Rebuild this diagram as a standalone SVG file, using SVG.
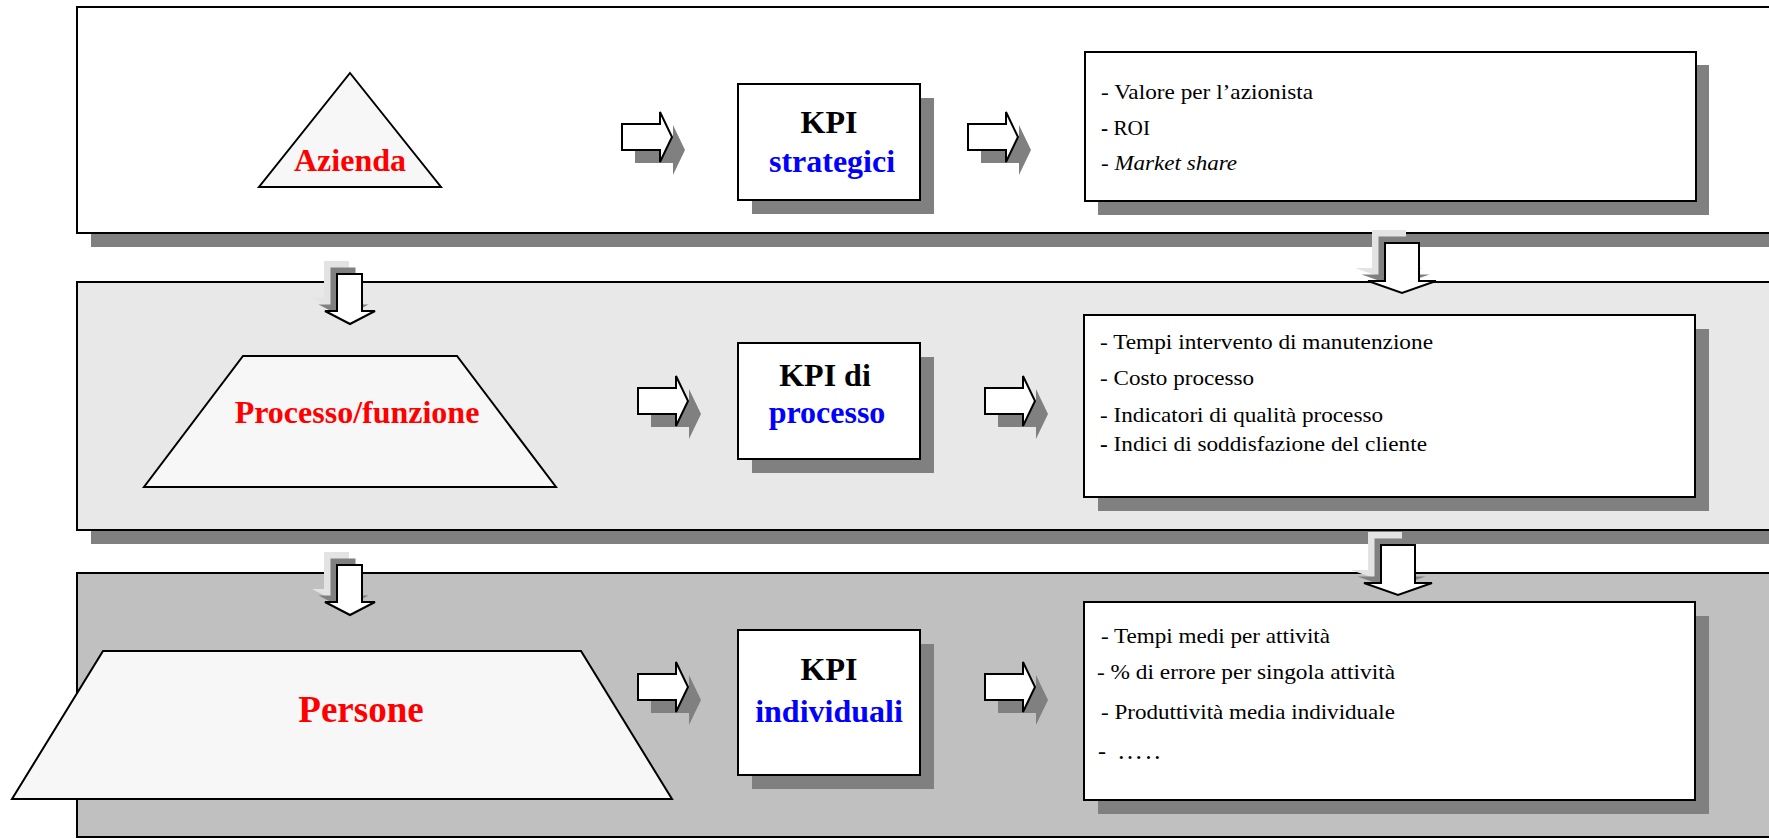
<svg xmlns="http://www.w3.org/2000/svg" xmlns:xlink="http://www.w3.org/1999/xlink" width="1769" height="839" viewBox="0 0 1769 839">
<style>
.band{stroke:#000;stroke-width:2}
.shadow{fill:#808080}
.shape{fill:#f7f7f7;stroke:#000;stroke-width:2}
.box{fill:#fff;stroke:#000;stroke-width:2}
.head{font-family:"Liberation Serif","Times New Roman",serif;font-weight:bold;font-size:32px;text-anchor:middle}
.lbl{font-family:"Liberation Serif","Times New Roman",serif;font-weight:bold;fill:#ff0000;text-anchor:middle}
.item{font-family:"Liberation Serif","Times New Roman",serif;font-size:22px;fill:#000}
.arrow{fill:#fff;stroke:#000;stroke-width:2;stroke-linejoin:miter}
.ash1{fill:#e3e3e3}
.ash2{fill:#808080}
</style>
<defs>
<path id="harrow" d="M0,12 H38 V0 L50,25 L38,50 V38 H0 Z"/>
<path id="darrowS" d="M12,0 H37 V37 H50 L25,50 L0,37 H12 Z"/>
<path id="darrowL" d="M17,0 H51 V38 H68 L34,50 L0,38 H17 Z"/>
</defs>

<g id="band-azienda">
<rect class="shadow" x="91" y="21" width="1720" height="226"/>
<rect class="band" x="77" y="7" width="1720" height="226" fill="#ffffff"/>
</g>
<g id="band-processo">
<rect class="shadow" x="91" y="296" width="1720" height="248"/>
<rect class="band" x="77" y="282" width="1720" height="248" fill="#e8e8e8"/>
</g>
<g id="band-persone">
<rect class="band" x="77" y="573" width="1720" height="264" fill="#c0c0c0"/>
</g>

<g id="azienda">
<polygon class="shape" points="350,73 441,187 259,187"/>
<text class="lbl" x="350" y="171" font-size="32">Azienda</text>
</g>
<g id="processo-funzione">
<polygon class="shape" points="243,356 457,356 556,487 144,487"/>
<text class="lbl" x="357" y="423" font-size="32">Processo/funzione</text>
</g>
<g id="persone">
<polygon class="shape" points="103,651 581,651 672,799 12,799"/>
<text class="lbl" x="361" y="722" font-size="37">Persone</text>
</g>

<g id="kpi-strategici">
<rect class="shadow" x="752" y="98" width="182" height="116"/>
<rect class="box" x="738" y="84" width="182" height="116"/>
<text class="head" x="829" y="133" fill="#000">KPI</text>
<text class="head" x="832" y="172" fill="#0000ff">strategici</text>
</g>
<g id="kpi-processo">
<rect class="shadow" x="752" y="357" width="182" height="116"/>
<rect class="box" x="738" y="343" width="182" height="116"/>
<text class="head" x="825" y="386" fill="#000">KPI di</text>
<text class="head" x="827" y="423" fill="#0000ff">processo</text>
</g>
<g id="kpi-individuali">
<rect class="shadow" x="752" y="644" width="182" height="145"/>
<rect class="box" x="738" y="630" width="182" height="145"/>
<text class="head" x="829" y="680" fill="#000">KPI</text>
<text class="head" x="829" y="722" fill="#0000ff">individuali</text>
</g>

<g id="list-strategici">
<rect class="shadow" x="1098" y="65" width="611" height="150"/>
<rect class="box" x="1085" y="52" width="611" height="149"/>
<text class="item" x="1101" y="99" textLength="212" lengthAdjust="spacingAndGlyphs">- Valore per l’azionista</text>
<text class="item" x="1101" y="135" textLength="49" lengthAdjust="spacingAndGlyphs"><tspan font-weight="bold">-</tspan> ROI</text>
<text class="item" x="1101" y="170" textLength="136" lengthAdjust="spacingAndGlyphs">- <tspan font-style="italic">Market share</tspan></text>
</g>
<g id="list-processo">
<rect class="shadow" x="1098" y="329" width="611" height="182"/>
<rect class="box" x="1084" y="315" width="611" height="182"/>
<text class="item" x="1100" y="349" textLength="333" lengthAdjust="spacingAndGlyphs">- Tempi intervento di manutenzione</text>
<text class="item" x="1100" y="385" textLength="154" lengthAdjust="spacingAndGlyphs">- Costo processo</text>
<text class="item" x="1100" y="422" textLength="283" lengthAdjust="spacingAndGlyphs">- Indicatori di qualità processo</text>
<text class="item" x="1100" y="451" textLength="327" lengthAdjust="spacingAndGlyphs"><tspan font-weight="bold">-</tspan> Indici di soddisfazione del cliente</text>
</g>
<g id="list-individuali">
<rect class="shadow" x="1098" y="616" width="611" height="198"/>
<rect class="box" x="1084" y="602" width="611" height="198"/>
<text class="item" x="1101" y="643" textLength="229" lengthAdjust="spacingAndGlyphs">- Tempi medi per attività</text>
<text class="item" x="1097" y="679" textLength="298" lengthAdjust="spacingAndGlyphs">- % di errore per singola attività</text>
<text class="item" x="1101" y="719" textLength="294" lengthAdjust="spacingAndGlyphs">- Produttività media individuale</text>
<text class="item" y="759"><tspan x="1098" font-size="24">- </tspan><tspan x="1117" font-size="26" letter-spacing="2.2">…..</tspan></text>
</g>

<g id="connectors">
<g transform="translate(622,112)"><use xlink:href="#harrow" class="ash2" transform="translate(13,13)"/><use xlink:href="#harrow" class="arrow"/></g>
<g transform="translate(968,112)"><use xlink:href="#harrow" class="ash2" transform="translate(13,13)"/><use xlink:href="#harrow" class="arrow"/></g>
<g transform="translate(638,376)"><use xlink:href="#harrow" class="ash2" transform="translate(13,13)"/><use xlink:href="#harrow" class="arrow"/></g>
<g transform="translate(985,376)"><use xlink:href="#harrow" class="ash2" transform="translate(13,13)"/><use xlink:href="#harrow" class="arrow"/></g>
<g transform="translate(638,662)"><use xlink:href="#harrow" class="ash2" transform="translate(13,13)"/><use xlink:href="#harrow" class="arrow"/></g>
<g transform="translate(985,662)"><use xlink:href="#harrow" class="ash2" transform="translate(13,13)"/><use xlink:href="#harrow" class="arrow"/></g>

<g transform="translate(325,274)"><use xlink:href="#darrowS" class="ash1" transform="translate(-13,-13)"/><use xlink:href="#darrowS" class="ash2" transform="translate(-6.5,-6.5)"/><use xlink:href="#darrowS" class="arrow"/></g>
<g transform="translate(325,565)"><use xlink:href="#darrowS" class="ash1" transform="translate(-13,-13)"/><use xlink:href="#darrowS" class="ash2" transform="translate(-6.5,-6.5)"/><use xlink:href="#darrowS" class="arrow"/></g>
<g transform="translate(1368,243)"><use xlink:href="#darrowL" class="ash1" transform="translate(-13,-13)"/><use xlink:href="#darrowL" class="ash2" transform="translate(-6.5,-6.5)"/><use xlink:href="#darrowL" class="arrow"/></g>
<g transform="translate(1364,545)"><use xlink:href="#darrowL" class="ash1" transform="translate(-13,-13)"/><use xlink:href="#darrowL" class="ash2" transform="translate(-6.5,-6.5)"/><use xlink:href="#darrowL" class="arrow"/></g>
</g>
</svg>
